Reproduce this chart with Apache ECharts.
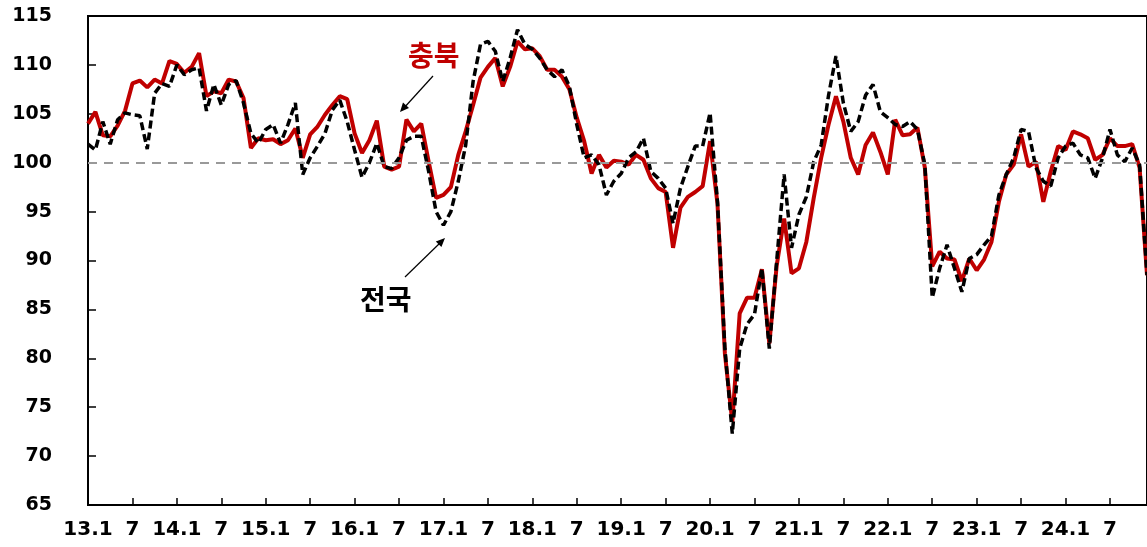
<!DOCTYPE html>
<html>
<head>
    <meta charset="utf-8">
    <title>충북 / 전국</title>
    <script src="https://cdn.jsdelivr.net/npm/echarts@6/dist/echarts.min.js"></script>
</head>
<body style="margin: 0">
    <div id="main" style="width: 1147px; height: 547px"></div>
    <script>
        // 기간: 2013.1 ~ 2024.12 (월별)
        var years = [13, 14, 15, 16, 17, 18, 19, 20, 21, 22, 23, 24];
        var months = [1, 2, 3, 4, 5, 6, 7, 8, 9, 10, 11, 12];

        // 충북 (빨간 실선)
        var chungbuk = [
            104.0, 105.2, 102.8, 102.7, 103.8, 105.3, 108.1, 108.4, 107.7, 108.5, 108.1, 110.4,
            110.1, 109.2, 109.8, 111.2, 106.8, 107.3, 107.1, 108.5, 108.3, 106.6, 101.5, 102.5,
            102.3, 102.4, 101.9, 102.3, 103.5, 100.5, 102.9, 103.7, 104.9, 105.9, 106.8, 106.5,
            103.0, 101.0, 102.3, 104.3, 99.6, 99.3, 99.6, 104.4, 103.2, 104.0, 100.1, 96.4,
            96.7, 97.5, 100.8, 103.2, 105.9, 108.7, 109.8, 110.7, 107.8, 109.8, 112.4, 111.6,
            111.7, 110.9, 109.5, 109.5, 108.8, 107.5, 104.6, 102.2, 98.9, 100.8, 99.5, 100.2,
            100.1, 99.8, 100.8, 100.3, 98.4, 97.4, 97.0, 91.3, 95.4, 96.5, 97.0, 97.6,
            102.2, 95.8, 80.5, 73.5, 84.6, 86.2, 86.2, 89.1, 81.5, 89.5, 94.3, 88.7,
            89.2, 91.9, 96.4, 100.5, 103.9, 106.8, 104.2, 100.5, 98.8, 101.8, 103.1, 101.1,
            98.8, 104.4, 102.8, 102.9, 103.6, 99.5, 89.4, 90.9, 90.2, 90.1, 87.9, 90.2,
            89.0, 90.1, 91.9, 96.0, 98.8, 99.8, 102.9, 99.6, 100.1, 96.0, 99.1, 101.7,
            101.3, 103.2, 102.9, 102.5, 100.3, 100.8, 102.5, 101.7, 101.7, 101.9, 99.5, 88.5
        ];

        // 전국 (검은 점선)
        var national = [
            101.9, 101.3, 104.2, 101.9, 104.4, 105.1, 104.9, 104.8, 101.4, 107.1, 108.1, 107.8,
            110.0, 109.0, 109.5, 109.7, 105.3, 108.0, 105.9, 108.0, 108.4, 106.1, 103.0, 102.0,
            103.4, 103.9, 102.0, 103.9, 106.1, 98.8, 100.5, 101.7, 103.0, 105.4, 106.4, 104.2,
            101.3, 98.5, 100.0, 102.0, 99.6, 99.4, 100.5, 102.3, 102.7, 102.7, 99.1, 95.0,
            93.6, 95.0, 98.1, 101.8, 108.3, 112.1, 112.4, 111.4, 108.3, 110.7, 113.6, 112.1,
            111.6, 110.7, 109.5, 108.8, 109.5, 107.8, 103.9, 100.5, 100.8, 99.8, 96.7, 98.1,
            98.9, 100.5, 101.1, 102.5, 99.1, 98.4, 97.4, 93.8, 97.4, 99.6, 101.7, 101.7,
            105.1, 96.0, 81.0, 72.3, 81.0, 83.5, 84.5, 89.2, 81.0, 90.0, 98.8, 91.3,
            94.7, 96.5, 100.1, 101.8, 106.9, 110.9, 106.1, 103.2, 104.2, 106.9, 108.0, 105.2,
            104.6, 103.9, 103.7, 104.2, 103.4, 99.8, 86.2, 89.2, 91.6, 89.2, 86.8, 90.2,
            90.6, 91.6, 92.5, 96.7, 98.8, 100.5, 103.4, 103.2, 99.5, 98.1, 97.6, 100.5,
            101.7, 102.0, 100.8, 100.5, 98.4, 100.5, 103.4, 100.8, 100.1, 101.5, 99.8, 88.5
        ];

        var baseLine = 100; // 기준선

        var categories = [];
        years.forEach(function (y) {
            months.forEach(function (m) {
                categories.push(y + '.' + m);
            });
        });

        var myChart = echarts.init(document.getElementById('main'));

        var tickFontFamily = 'DejaVu Sans, Verdana, sans-serif';

        myChart.setOption({
            animation: false,
            backgroundColor: '#fff',
            grid: {
                left: 88,
                right: 0,
                top: 16,
                bottom: 42,
                show: true,
                borderColor: '#000',
                borderWidth: 2
            },
            xAxis: {
                type: 'category',
                data: categories,
                boundaryGap: false,
                axisLine: { lineStyle: { color: '#000', width: 2 } },
                axisTick: { inside: true, length: 7, interval: 5, lineStyle: { color: '#000', width: 1.5 } },
                axisLabel: {
                    interval: 5,
                    margin: 15,
                    fontSize: 20,
                    fontFamily: tickFontFamily,
                    fontWeight: 'bold',
                    color: '#000',
                    formatter: function (v) {
                        var m = v.split('.')[1];
                        return m === '1' ? v : m;
                    }
                },
                splitLine: { show: false }
            },
            yAxis: {
                type: 'value',
                min: 65,
                max: 115,
                interval: 5,
                axisLine: { show: true, lineStyle: { color: '#000', width: 2 } },
                axisTick: { show: true, inside: true, length: 8, lineStyle: { color: '#000', width: 1.5 } },
                axisLabel: {
                    margin: 36,
                    fontSize: 19,
                    fontFamily: tickFontFamily,
                    fontWeight: 'bold',
                    color: '#000'
                },
                splitLine: { show: false }
            },
            series: [
                {
                    // 기준선 100
                    type: 'line',
                    data: [],
                    z: 1,
                    markLine: {
                        silent: true,
                        symbol: 'none',
                        label: { show: false },
                        lineStyle: { color: '#999', width: 2, type: [9, 7] },
                        data: [{ yAxis: baseLine }]
                    }
                },
                {
                    name: '충북',
                    type: 'line',
                    data: chungbuk,
                    z: 2,
                    showSymbol: false,
                    symbol: 'none',
                    lineStyle: { color: '#c00000', width: 4 }
                },
                {
                    name: '전국',
                    type: 'line',
                    data: national,
                    z: 3,
                    showSymbol: false,
                    symbol: 'none',
                    lineStyle: { color: '#000', width: 3.5, type: [8, 4] }
                }
            ],
            graphic: [
                {
                    type: 'text',
                    left: 408, top: 41,
                    style: {
                        text: '충북',
                        fill: '#c00000',
                        font: 'bold 28px "Noto Sans CJK KR", sans-serif'
                    }
                },
                {
                    type: 'line',
                    shape: { x1: 433, y1: 76, x2: 403, y2: 109 },
                    style: { stroke: '#000', lineWidth: 1.2 }
                },
                {
                    type: 'polygon',
                    shape: { points: [[400, 112], [409, 107.9], [403, 102.6]] },
                    style: { fill: '#000' }
                },
                {
                    type: 'text',
                    left: 360, top: 285,
                    style: {
                        text: '전국',
                        fill: '#000',
                        font: 'bold 28px "Noto Sans CJK KR", sans-serif'
                    }
                },
                {
                    type: 'line',
                    shape: { x1: 405, y1: 277, x2: 441, y2: 242 },
                    style: { stroke: '#000', lineWidth: 1.2 }
                },
                {
                    type: 'polygon',
                    shape: { points: [[445, 238], [441.4, 247.1], [435.8, 241.4]] },
                    style: { fill: '#000' }
                }
            ]
        });
    </script>
</body>
</html>
